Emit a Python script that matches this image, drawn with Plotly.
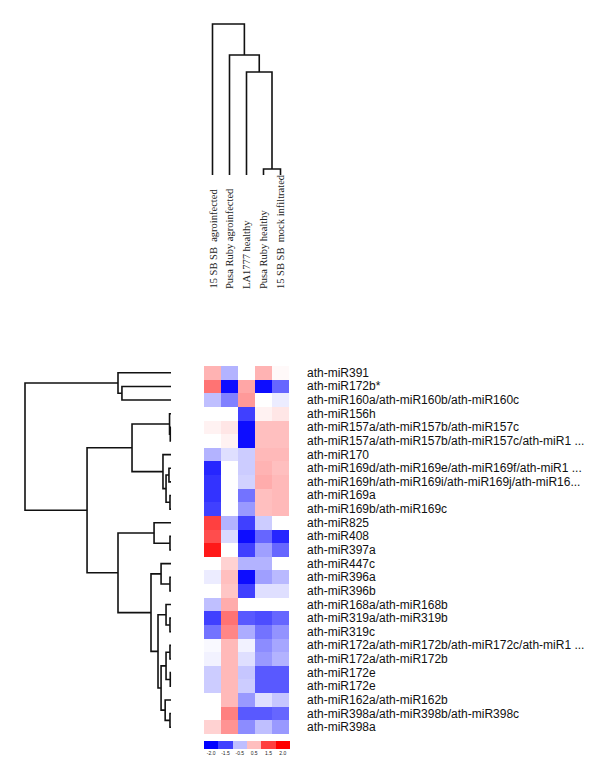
import plotly.graph_objects as go

W, H = 600, 761

# ---------------- data ----------------
samples = ["15 SB SB  agroinfected", "Pusa Ruby agroinfected", "LA1777 healthy",
           "Pusa Ruby healthy", "15 SB SB  mock infiltrated"]

mirnas = [
    "ath-miR391",
    "ath-miR172b*",
    "ath-miR160a/ath-miR160b/ath-miR160c",
    "ath-miR156h",
    "ath-miR157a/ath-miR157b/ath-miR157c",
    "ath-miR157a/ath-miR157b/ath-miR157c/ath-miR1 ...",
    "ath-miR170",
    "ath-miR169d/ath-miR169e/ath-miR169f/ath-miR1 ...",
    "ath-miR169h/ath-miR169i/ath-miR169j/ath-miR16...",
    "ath-miR169a",
    "ath-miR169b/ath-miR169c",
    "ath-miR825",
    "ath-miR408",
    "ath-miR397a",
    "ath-miR447c",
    "ath-miR396a",
    "ath-miR396b",
    "ath-miR168a/ath-miR168b",
    "ath-miR319a/ath-miR319b",
    "ath-miR319c",
    "ath-miR172a/ath-miR172b/ath-miR172c/ath-miR1 ...",
    "ath-miR172a/ath-miR172b",
    "ath-miR172e",
    "ath-miR172e",
    "ath-miR162a/ath-miR162b",
    "ath-miR398a/ath-miR398b/ath-miR398c",
    "ath-miR398a",
]

# one list per sample column (row order as above)
col_15sb_agro = [0.6, 1.1, -0.5, 0.0, 0.1, 0.0, -0.6, -1.7, -1.6, -1.6, -1.5, 1.5, 1.4, 1.8,
                 0.0, -0.15, 0.0, -0.5, -1.5, -1.1, -0.05, -0.1, -0.4, -0.4, 0.0, 0.0, 0.35]
col_pusa_agro = [-0.6, -1.9, -1.0, 0.0, 0.2, 0.1, -0.25, 0.0, 0.0, 0.0, 0.0, -0.6, -0.3, 0.0,
                 0.35, 0.5, 0.45, 0.65, 1.1, 0.95, 0.55, 0.55, 0.55, 0.55, 0.55, 1.0, 0.85]
col_la1777 = [0.0, 0.7, 0.8, -1.5, -1.9, -1.9, -0.4, -0.4, -0.35, -1.1, -0.8, -1.5, -1.9, -1.5,
              -0.6, -1.9, -1.5, 0.0, -1.3, -0.65, -0.1, -0.25, -0.45, -0.4, -0.8, -1.3, -0.9]
col_pusa_healthy = [0.6, -1.9, 0.0, 0.1, 0.5, 0.5, 0.55, 0.6, 0.65, 0.5, 0.5, -0.4, -1.2, -0.75,
                    -0.6, -0.75, -0.25, 0.0, -1.4, -1.1, -0.9, -0.8, -1.3, -1.3, -0.25, -1.3, -0.5]
col_15sb_mock = [0.05, -1.2, -0.15, 0.2, 0.5, 0.5, 0.55, 0.5, 0.55, 0.55, 0.55, 0.0, -1.7, -1.2,
                 0.0, -0.55, -0.25, 0.0, -1.2, -0.85, -0.7, -0.6, -1.3, -1.3, -0.45, -1.2, -0.8]

# dendrograms: (height, left, right); leaves are indices
col_tree = (1.0, 0, (0.795, 1, (0.682, 2, (0.04, 3, 4))))

row_tree = (1.0,
            (0.363, 0, (0.336, 1, 2)),
            (0.575,
             (0.267,
              (0.010, 3, (0.005, 4, 5)),
              (0.055, 6, (0.034, (0.014, 7, 8), (0.007, 9, 10)))),
             (0.363,
              (0.116, 11, (0.007, 12, 13)),
              (0.137,
               (0.068, 14, (0.007, 15, 16)),
               (0.089,
                (0.034, 17, (0.007, 18, 19)),
                (0.068,
                 (0.034, (0.007, 20, 21), (0.005, 22, 23)),
                 (0.040, 24, (0.007, 25, 26))))))))

legend_values = [-2.0, -1.5, -0.5, 0.5, 1.5, 2.0]
legend_labels = ["-2.0", "-1.5", "-0.5", "0.5", "1.5", "2.0"]

# ---------------- helpers ----------------
def px_x(p):
    return p / W

def px_y(p):
    return 1 - p / H

def dendro_segments(node):
    xs, ys = [], []
    def rec(n):
        if isinstance(n, int):
            return float(n), 0.0
        h, l, r = n
        pl, hl = rec(l)
        pr, hr = rec(r)
        xs.extend([pl, pl, pr, pr, None])
        ys.extend([hl, h, h, hr, None])
        return (pl + pr) / 2, h
    rec(node)
    return xs, ys

columns = [col_15sb_agro, col_pusa_agro, col_la1777, col_pusa_healthy, col_15sb_mock]
z = [[columns[c][r] for c in range(len(columns))] for r in range(len(mirnas))]

cscale = [[0.0, "#0000ff"], [0.5, "#ffffff"], [1.0, "#ff0000"]]
line_style = dict(color="#111111", width=1.6)

fig = go.Figure()

# heatmap
fig.add_trace(go.Heatmap(z=z, x=list(range(len(samples))), y=list(range(len(mirnas))),
                         colorscale=cscale, zmin=-2, zmax=2, showscale=False,
                         xaxis="x", yaxis="y", hoverinfo="skip"))

# column dendrogram
cx, cy = dendro_segments(col_tree)
fig.add_trace(go.Scatter(x=cx, y=cy, mode="lines", line=line_style,
                         xaxis="x2", yaxis="y2", hoverinfo="skip", showlegend=False))

# row dendrogram
rp, rh = dendro_segments(row_tree)
fig.add_trace(go.Scatter(x=rh, y=rp, mode="lines", line=line_style,
                         xaxis="x3", yaxis="y3", hoverinfo="skip", showlegend=False))

# colour key
fig.add_trace(go.Heatmap(z=[legend_values], x=list(range(len(legend_values))), y=[0],
                         colorscale=cscale, zmin=-2, zmax=2, showscale=False,
                         xaxis="x4", yaxis="y4", hoverinfo="skip"))

hidden = dict(showgrid=False, zeroline=False, showticklabels=False, ticks="", showline=False)

heat_x = [px_x(196), px_x(281)]
heat_y = [px_y(726), px_y(358)]
nrows = len(mirnas)

fig.update_layout(
    width=W, height=H, margin=dict(l=0, r=0, t=0, b=0),
    paper_bgcolor="white", plot_bgcolor="white", showlegend=False,
    xaxis=dict(domain=heat_x, range=[-0.5, len(samples) - 0.5], **hidden),
    yaxis=dict(domain=heat_y, range=[nrows - 0.5, -0.5], **hidden),
    xaxis2=dict(domain=heat_x, range=[-0.5, len(samples) - 0.5], **hidden),
    yaxis2=dict(domain=[px_y(170), px_y(13)], range=[-3 / 151, 1 + 3 / 151], **hidden),
    xaxis3=dict(domain=[px_x(14), px_x(166)], range=[1 + 3 / 146, -3 / 146], **hidden),
    yaxis3=dict(domain=heat_y, range=[nrows - 0.5, -0.5], **hidden),
    xaxis4=dict(domain=[px_x(196), px_x(282)], range=[-0.5, len(legend_values) - 0.5],
                showgrid=False, zeroline=False, showline=False, ticks="",
                tickmode="array", tickvals=list(range(len(legend_values))),
                ticktext=legend_labels,
                tickfont=dict(family="Liberation Sans", size=5, color="#222"),
                anchor="y4"),
    yaxis4=dict(domain=[px_y(741), px_y(733)], range=[-0.5, 0.5], **hidden),
)

annotations = []
for i, name in enumerate(mirnas):
    annotations.append(dict(x=px_x(297), xref="paper", y=i, yref="y", text=name,
                            showarrow=False, xanchor="left", yanchor="middle",
                            font=dict(family="Liberation Sans", size=12, color="#111")))
for j, s in enumerate(samples):
    annotations.append(dict(x=j, xref="x", y=px_y(283), yref="paper", text=s,
                            showarrow=False, textangle=-90, xanchor="center",
                            yanchor="bottom",
                            font=dict(family="Liberation Serif", size=10.5, color="#222")))
fig.update_layout(annotations=annotations)

fig.write_html("out.html")
